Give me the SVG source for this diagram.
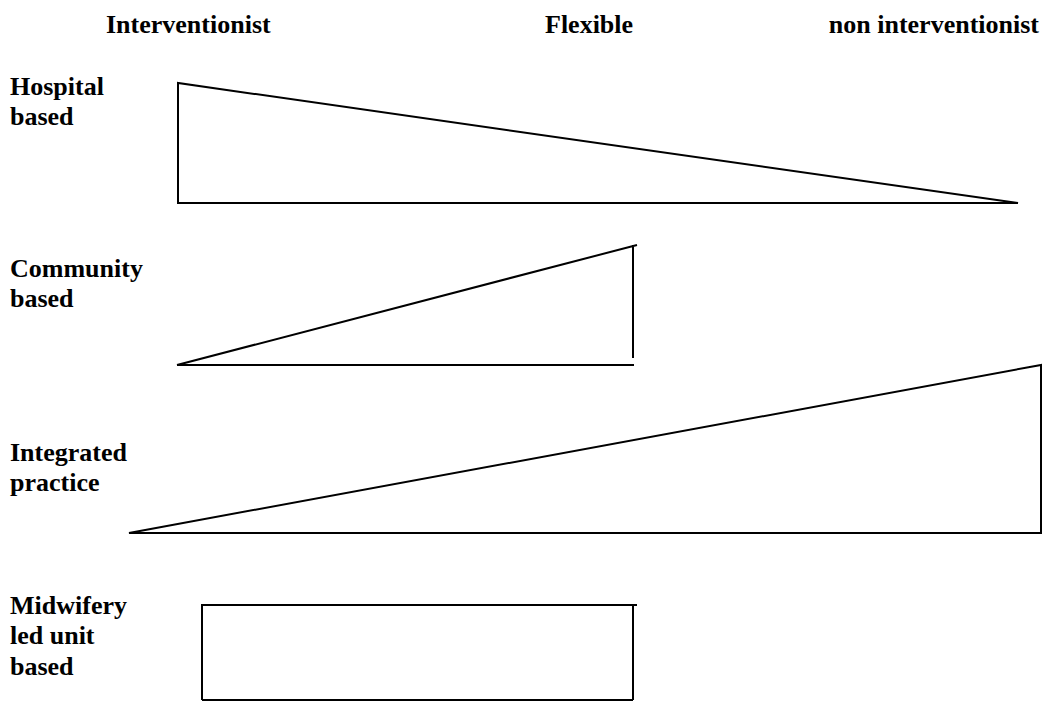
<svg xmlns="http://www.w3.org/2000/svg" width="1047" height="701" viewBox="0 0 1047 701">
<style>
text{font-family:"Liberation Serif","Times New Roman",serif;font-weight:bold;font-size:26px;fill:#000}
.s{fill:none;stroke:#000;stroke-width:2}
</style>
<rect width="1047" height="701" fill="#fff"/>
<g id="headers">
<text x="106" y="33">Interventionist</text>
<text x="545" y="33">Flexible</text>
<text x="1039" y="33" text-anchor="end">non interventionist</text>
</g>
<g id="hospital">
<text x="10" y="95">Hospital</text>
<text x="10" y="125">based</text>
<path class="s" d="M178,203 L178,83 L1018,203 Z"/>
</g>
<g id="community">
<text x="10" y="277">Community</text>
<text x="10" y="307">based</text>
<path class="s" d="M177,365 L634,365 M177,365 L637,245 M633,245 L633,358"/>
</g>
<g id="integrated">
<text x="10" y="461">Integrated</text>
<text x="10" y="491">practice</text>
<path class="s" d="M129,533 L1041,533 L1041,365 Z"/>
</g>
<g id="midwifery">
<text x="10" y="614">Midwifery</text>
<text x="10" y="644">led unit</text>
<text x="10" y="675">based</text>
<path class="s" d="M202,700 L202,605 L637,605 M633,605 L633,700 M202,700 L633,700"/>
</g>
<g id="connectors"></g>
</svg>
